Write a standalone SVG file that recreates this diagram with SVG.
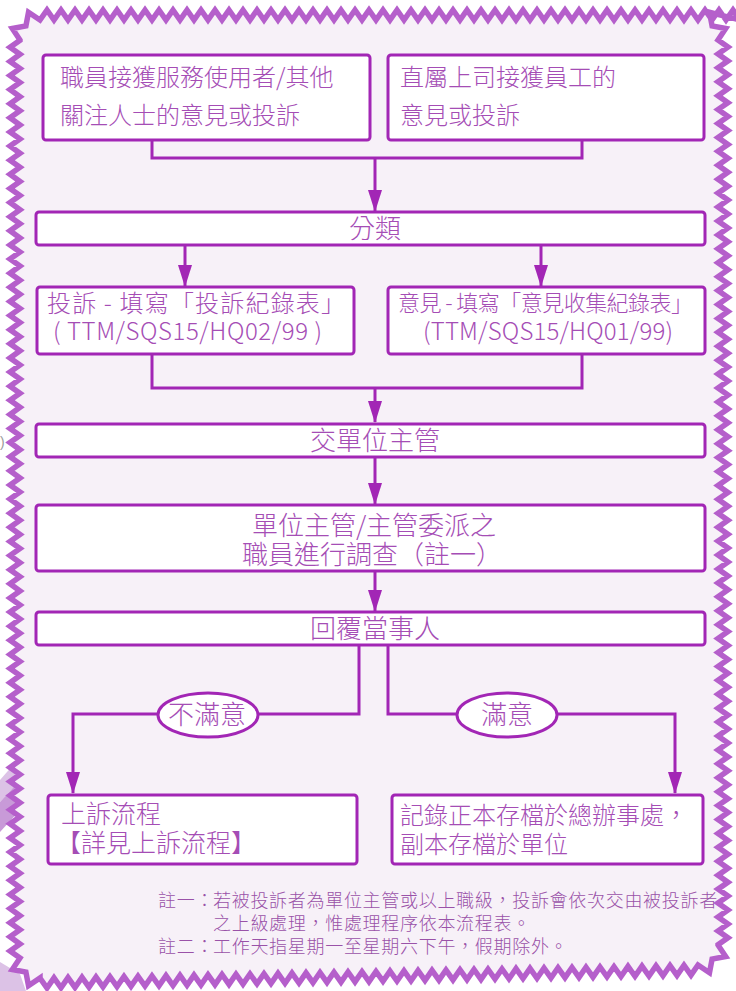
<svg xmlns="http://www.w3.org/2000/svg" width="736" height="991" viewBox="0 0 736 991">
<defs>
<style>
.bd{fill:#f7f1f8;stroke:#b55fcb;stroke-width:5.5;stroke-linejoin:miter}
.box{fill:#fff;stroke:#a226b5;stroke-width:3}
.t{font-family:"Noto Sans CJK TC","Noto Sans CJK SC","Noto Sans CJK JP",sans-serif;font-weight:300;fill:#a54db5;font-size:24px}
.c{text-anchor:middle}
.m{font-size:26px}
.s{font-size:22px}
.n{font-size:18px;fill:#9a52a8;letter-spacing:0.7px}
.ln{fill:none;stroke:#a226b5;stroke-width:3}
.ar{marker-end:url(#ah)}
.ov{fill:#fff;stroke:#a226b5;stroke-width:3}
</style>
<marker id="ah" markerUnits="userSpaceOnUse" markerWidth="22" markerHeight="14" refX="21" refY="7" orient="auto">
<path d="M0,0 L22,7 L0,14 Z" fill="#a226b5"/>
</marker>
</defs>
<rect width="736" height="991" fill="#ffffff"/>
<g id="decor">
<polygon points="0,780 28,748 31,768 0,802" fill="#dcc2e6"/>
<polygon points="0,802 31,768 31,798 0,832" fill="#c89ad8"/>
<polygon points="0,962 20,974 26,991 0,991" fill="#dcc2e6"/>
<text x="0" y="447" font-family="Liberation Sans, sans-serif" font-size="14" fill="#9a9a9a">)</text>
</g>
<g id="border">
<path class="bd" d="M40,20 l7,-10 7,10 7,-10 7,10 7,-10 7,10 7,-10 7,10 7,-10 7,10 7,-10 7,10 7,-10 7,10 7,-10 7,10 7,-10 7,10 7,-10 7,10 7,-10 7,10 7,-10 7,10 7,-10 7,10 7,-10 7,10 7,-10 7,10 7,-10 7,10 7,-10 7,10 7,-10 7,10 7,-10 7,10 7,-10 7,10 7,-10 7,10 7,-10 7,10 7,-10 7,10 7,-10 7,10 7,-10 7,10 7,-10 7,10 7,-10 7,10 7,-10 7,10 7,-10 7,10 7,-10 7,10 7,-10 7,10 7,-10 7,10 7,-10 7,10 7,-10 7,10 7,-10 7,10 7,-10 7,10 7,-10 7,10 7,-10 7,10 7,-10 7,10 7,-10 7,10 7,-10 7,10 7,-10 7,10 7,-10 7,10 7,-10 7,10 7,-10 7,10 7,-10 7,10 7,-10 7,10 7,-10 7,10 7,-10 7,10 7,-10 7,10
L709.5,12.3 L712.1,25.9 L725.7,28.5 L718,40
l10,6.96 -10,6.96 10,6.96 -10,6.96 10,6.96 -10,6.96 10,6.96 -10,6.96 10,6.96 -10,6.96 10,6.96 -10,6.96 10,6.96 -10,6.96 10,6.96 -10,6.96 10,6.96 -10,6.96 10,6.96 -10,6.96
10,6.96 -10,6.96 10,6.96 -10,6.96 10,6.96 -10,6.96 10,6.96 -10,6.96 10,6.96 -10,6.96 10,6.96 -10,6.96 10,6.96 -10,6.96 10,6.96 -10,6.96 10,6.96 -10,6.96 10,6.96 -10,6.96
10,6.96 -10,6.96 10,6.96 -10,6.96 10,6.96 -10,6.96 10,6.96 -10,6.96 10,6.96 -10,6.96 10,6.96 -10,6.96 10,6.96 -10,6.96 10,6.96 -10,6.96 10,6.96 -10,6.96 10,6.96 -10,6.96
10,6.96 -10,6.96 10,6.96 -10,6.96 10,6.96 -10,6.96 10,6.96 -10,6.96 10,6.96 -10,6.96 10,6.96 -10,6.96 10,6.96 -10,6.96 10,6.96 -10,6.96 10,6.96 -10,6.96 10,6.96 -10,6.96
10,6.96 -10,6.96 10,6.96 -10,6.96 10,6.96 -10,6.96 10,6.96 -10,6.96 10,6.96 -10,6.96 10,6.96 -10,6.96 10,6.96 -10,6.96 10,6.96 -10,6.96 10,6.96 -10,6.96 10,6.96 -10,6.96
10,6.96 -10,6.96 10,6.96 -10,6.96 10,6.96 -10,6.96 10,6.96 -10,6.96 10,6.96 -10,6.96 10,6.96 -10,6.96 10,6.96 -10,6.96 10,6.96 -10,6.96 10,6.96 -10,6.96 10,6.96 -10,6.96
10,6.96 -10,6.96 10,6.96 -10,6.96 10,6.96 -10,6.96 10,6.96 -10,6.96 10,6.96 -10,6.96
L718,945 L725.7,956.5 L712.1,959.1 L709.5,972.7 L698,965
l-7,10.14 -7,-9.86 -7,10.14 -7,-9.86 -7,10.14 -7,-9.86 -7,10.14 -7,-9.86 -7,10.14 -7,-9.86 -7,10.14 -7,-9.86 -7,10.14 -7,-9.86 -7,10.14 -7,-9.86 -7,10.14 -7,-9.86 -7,10.14 -7,-9.86
-7,10.14 -7,-9.86 -7,10.14 -7,-9.86 -7,10.14 -7,-9.86 -7,10.14 -7,-9.86 -7,10.14 -7,-9.86 -7,10.14 -7,-9.86 -7,10.14 -7,-9.86 -7,10.14 -7,-9.86 -7,10.14 -7,-9.86 -7,10.14 -7,-9.86
-7,10.14 -7,-9.86 -7,10.14 -7,-9.86 -7,10.14 -7,-9.86 -7,10.14 -7,-9.86 -7,10.14 -7,-9.86 -7,10.14 -7,-9.86 -7,10.14 -7,-9.86 -7,10.14 -7,-9.86 -7,10.14 -7,-9.86 -7,10.14 -7,-9.86
-7,10.14 -7,-9.86 -7,10.14 -7,-9.86 -7,10.14 -7,-9.86 -7,10.14 -7,-9.86 -7,10.14 -7,-9.86 -7,10.14 -7,-9.86 -7,10.14 -7,-9.86 -7,10.14 -7,-9.86 -7,10.14 -7,-9.86 -7,10.14 -7,-9.86
-7,10.14 -7,-9.86 -7,10.14 -7,-9.86 -7,10.14 -7,-9.86 -7,10.14 -7,-9.86 -7,10.14 -7,-9.86 -7,10.14 -7,-9.86 -7,10.14 -7,-9.86
L40,978 L28.5,985.7 L25.9,972.1 L12.3,969.5 L20,958
l-10,-7.06 10,-7.06 -10,-7.06 10,-7.06 -10,-7.06 10,-7.06 -10,-7.06 10,-7.06 -10,-7.06 10,-7.06 -10,-7.06 10,-7.06 -10,-7.06 10,-7.06 -10,-7.06 10,-7.06 -10,-7.06 10,-7.06 -10,-7.06 10,-7.06
-10,-7.06 10,-7.06 -10,-7.06 10,-7.06 -10,-7.06 10,-7.06 -10,-7.06 10,-7.06 -10,-7.06 10,-7.06 -10,-7.06 10,-7.06 -10,-7.06 10,-7.06 -10,-7.06 10,-7.06 -10,-7.06 10,-7.06 -10,-7.06 10,-7.06
-10,-7.06 10,-7.06 -10,-7.06 10,-7.06 -10,-7.06 10,-7.06 -10,-7.06 10,-7.06 -10,-7.06 10,-7.06 -10,-7.06 10,-7.06 -10,-7.06 10,-7.06 -10,-7.06 10,-7.06 -10,-7.06 10,-7.06 -10,-7.06 10,-7.06
-10,-7.06 10,-7.06 -10,-7.06 10,-7.06 -10,-7.06 10,-7.06 -10,-7.06 10,-7.06 -10,-7.06 10,-7.06 -10,-7.06 10,-7.06 -10,-7.06 10,-7.06 -10,-7.06 10,-7.06 -10,-7.06 10,-7.06 -10,-7.06 10,-7.06
-10,-7.06 10,-7.06 -10,-7.06 10,-7.06 -10,-7.06 10,-7.06 -10,-7.06 10,-7.06 -10,-7.06 10,-7.06 -10,-7.06 10,-7.06 -10,-7.06 10,-7.06 -10,-7.06 10,-7.06 -10,-7.06 10,-7.06 -10,-7.06 10,-7.06
-10,-7.06 10,-7.06 -10,-7.06 10,-7.06 -10,-7.06 10,-7.06 -10,-7.06 10,-7.06 -10,-7.06 10,-7.06 -10,-7.06 10,-7.06 -10,-7.06 10,-7.06 -10,-7.06 10,-7.06 -10,-7.06 10,-7.06 -10,-7.06 10,-7.06
-10,-7.06 10,-7.06 -10,-7.06 10,-7.06 -10,-7.06 10,-7.06 -10,-7.06 10,-7.06 -10,-7.06 10,-7.06
L20,40 L12.3,28.5 L25.9,25.9 L28.5,12.3 Z"/>
</g>
<g id="connectors">
<path class="ln" d="M152,140 V158 H582 V140"/>
<path class="ln ar" d="M375,158 V211"/>
<path class="ln ar" d="M185,245 V286"/>
<path class="ln ar" d="M541,245 V286"/>
<path class="ln" d="M152,354 V388 H582 V354"/>
<path class="ln ar" d="M375,388 V422"/>
<path class="ln ar" d="M375,457 V504"/>
<path class="ln ar" d="M375,571 V611"/>
<path class="ln ar" d="M359,645 V714 H73 V793"/>
<path class="ln ar" d="M388,645 V714 H675 V793"/>
</g>
<g id="n1">
<rect class="box" x="43" y="55" width="327" height="85" rx="3"/>
<text class="t" x="60" y="86">職員接獲服務使用者/其他</text>
<text class="t" x="60" y="124">關注人士的意見或投訴</text>
</g>
<g id="n2">
<rect class="box" x="388" y="55" width="316" height="85" rx="3"/>
<text class="t" x="400" y="86">直屬上司接獲員工的</text>
<text class="t" x="400" y="124">意見或投訴</text>
</g>
<g id="n3">
<rect class="box" x="36" y="212" width="669" height="33" rx="3"/>
<text class="t m c" x="375" y="238">分類</text>
</g>
<g id="n4">
<rect class="box" x="37" y="287" width="317" height="67" rx="3"/>
<text class="t" x="47" y="312" textLength="298" lengthAdjust="spacing">投訴 - 填寫「投訴紀錄表」</text>
<text class="t" x="53" y="340" textLength="269" lengthAdjust="spacing">( TTM/SQS15/HQ02/99 )</text>
</g>
<g id="n5">
<rect class="box" x="388" y="287" width="317" height="67" rx="3"/>
<text class="t s" x="398" y="311" textLength="295" lengthAdjust="spacing">意見 - 填寫「意見收集紀錄表」</text>
<text class="t" x="423" y="340" textLength="250" lengthAdjust="spacing">(TTM/SQS15/HQ01/99)</text>
</g>
<g id="n6">
<rect class="box" x="36" y="424" width="669" height="33" rx="3"/>
<text class="t m c" x="375" y="450">交單位主管</text>
</g>
<g id="n7">
<rect class="box" x="36" y="505" width="669" height="66" rx="3"/>
<text class="t m c" x="374" y="535">單位主管/主管委派之</text>
<text class="t m c" x="372" y="564">職員進行調查（註一）</text>
</g>
<g id="n8">
<rect class="box" x="36" y="612" width="669" height="33" rx="3"/>
<text class="t m c" x="375" y="638">回覆當事人</text>
</g>
<g id="l1">
<ellipse class="ov" cx="208" cy="715" rx="50" ry="22"/>
<text class="t m c" x="207" y="724">不滿意</text>
</g>
<g id="l2">
<ellipse class="ov" cx="507" cy="715" rx="50" ry="22"/>
<text class="t m c" x="507" y="724">滿意</text>
</g>
<g id="n9">
<rect class="box" x="48" y="795" width="309" height="69" rx="3"/>
<text class="t" x="61" y="823" style="font-size:25px">上訴流程</text>
<text class="t" x="56" y="852" style="font-size:25px">【詳見上訴流程】</text>
</g>
<g id="n10">
<rect class="box" x="392" y="795" width="311" height="69" rx="3"/>
<text class="t" x="400" y="824">記錄正本存檔於總辦事處，</text>
<text class="t" x="400" y="853">副本存檔於單位</text>
</g>
<g id="notes">
<text class="t n" x="158" y="907">註一：</text>
<text class="t n" x="213" y="907">若被投訴者為單位主管或以上職級，投訴會依次交由被投訴者</text>
<text class="t n" x="213" y="930">之上級處理，惟處理程序依本流程表。</text>
<text class="t n" x="158" y="953">註二：</text>
<text class="t n" x="213" y="953">工作天指星期一至星期六下午，假期除外。</text>
</g>
</svg>
